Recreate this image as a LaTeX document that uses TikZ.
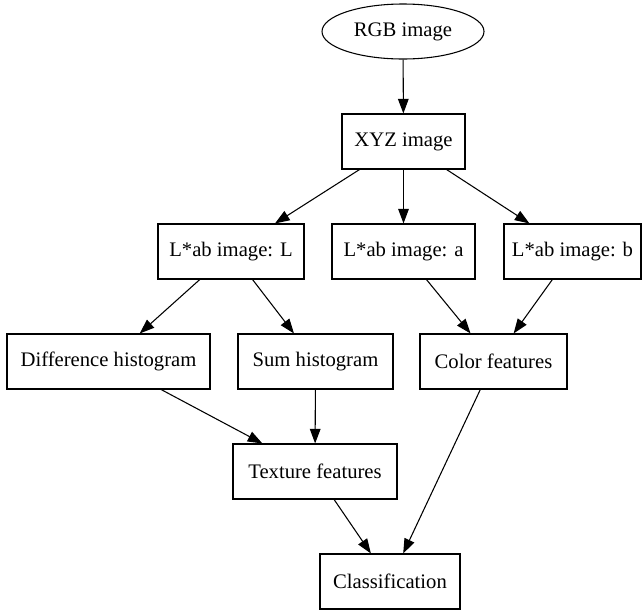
\documentclass[tikz,border=0pt]{standalone}
\usepackage{fontspec}
\setmainfont{Liberation Serif}
\usetikzlibrary{arrows.meta,shapes.geometric}
\begin{document}
\begin{tikzpicture}[x=0.75pt,y=-0.75pt,
  every node/.style={font=\fontsize{15.5}{18}\selectfont, line width=0.8pt, inner sep=0pt},
  box/.style={draw, rectangle, minimum height=41.25pt},
  oval/.style={draw, ellipse, minimum width=121.5pt, minimum height=41.25pt},
  edge/.style={-{Triangle[length=11pt,width=8pt]}, line width=0.8pt}]
\useasboundingbox (0,0) rectangle (642,611);
\node[oval] (rgb) at (403,31.5) {RGB image};
\node[box, minimum width=92.25pt] (xyz) at (403.5,141.5) {XYZ image};
\node[box, minimum width=109.5pt] (L) at (231,251.5) {L*ab image: L};
\node[box, minimum width=107.25pt] (A) at (403.5,251.5) {L*ab image: a};
\node[box, minimum width=102.75pt] (B) at (572.5,251.5) {L*ab image: b};
\node[box, minimum width=152.25pt] (diff) at (108.5,361.5) {Difference histogram};
\node[box, minimum width=116.25pt] (sum) at (315.5,361.5) {Sum histogram};
\node[box, minimum width=110.25pt] (color) at (493.5,361.5) {Color features};
\node[box, minimum width=123pt] (tex) at (315,471.5) {Texture features};
\node[box, minimum width=105pt] (cls) at (390,581.5) {Classification};
\draw[edge] (rgb) -- (xyz);
\draw[edge] (xyz) -- (L);
\draw[edge] (xyz) -- (A);
\draw[edge] (xyz) -- (B);
\draw[edge] (L) -- (diff);
\draw[edge] (L) -- (sum);
\draw[edge] (A) -- (color);
\draw[edge] (B) -- (color);
\draw[edge] (diff) -- (tex);
\draw[edge] (sum) -- (tex);
\draw[edge] (tex) -- (cls);
\draw[edge] (color) -- (cls);
\end{tikzpicture}
\end{document}
